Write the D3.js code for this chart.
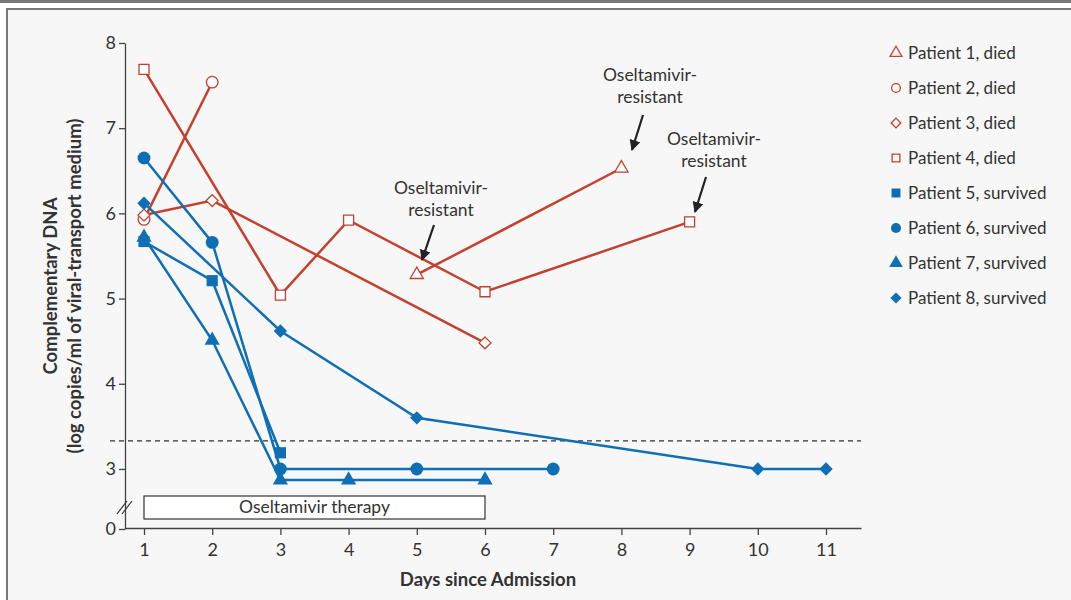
<!DOCTYPE html>
<html>
<head>
<script src="https://cdn.jsdelivr.net/npm/d3@7"></script>
<style>
  body { margin: 0; background: #fff; }
  text { font-family: Lato, "Open Sans", sans-serif; fill: #333; }
</style>
</head>
<body>
<div id="chart"></div>
<script>
// data
var days = [1, 2, 3, 4, 5, 6, 7, 8, 9, 10, 11];
var yTicks = [0, 3, 4, 5, 6, 7, 8];

var p1Days = [5, 8],             p1Vals = [5.28, 6.53];
var p2Days = [1, 2],             p2Vals = [5.93, 7.54];
var p3Days = [1, 2, 6],          p3Vals = [5.98, 6.15, 4.48];
var p4Days = [1, 3, 4, 6, 9],    p4Vals = [7.69, 5.04, 5.92, 5.08, 5.90];
var p5Days = [1, 2, 3],          p5Vals = [5.67, 5.21, 3.19];
var p6Days = [1, 2, 3, 5, 7],    p6Vals = [6.65, 5.66, 3.0, 3.0, 3.0];
var p7Days = [1, 2, 3, 4, 6],    p7Vals = [5.72, 4.51, 2.87, 2.87, 2.87];
var p8Days = [1, 3, 5, 10, 11],  p8Vals = [6.12, 4.62, 3.60, 3.0, 3.0];

var patientNames = ["Patient 1, died", "Patient 2, died", "Patient 3, died", "Patient 4, died",
                    "Patient 5, survived", "Patient 6, survived", "Patient 7, survived", "Patient 8, survived"];
var threshold = 3.33;
var therapyDays = [1, 6];
var resistantPoints = [[5, 5.28], [8, 6.53], [9, 5.90]];

var red = "#c4402f", blue = "#0f6fb5";

var series = [
  {d: p1Days, v: p1Vals, sym: d3.symbolTriangle, fill: false, col: red},
  {d: p2Days, v: p2Vals, sym: d3.symbolCircle, fill: false, col: red},
  {d: p3Days, v: p3Vals, sym: d3.symbolDiamond2, fill: false, col: red},
  {d: p4Days, v: p4Vals, sym: d3.symbolSquare, fill: false, col: red},
  {d: p5Days, v: p5Vals, sym: d3.symbolSquare, fill: true, col: blue},
  {d: p6Days, v: p6Vals, sym: d3.symbolCircle, fill: true, col: blue},
  {d: p7Days, v: p7Vals, sym: d3.symbolTriangle, fill: true, col: blue},
  {d: p8Days, v: p8Vals, sym: d3.symbolDiamond2, fill: true, col: blue}
];

var W = 1071, H = 600;
var svg = d3.select("#chart").append("svg").attr("width", W).attr("height", H);

// frame
svg.append("rect").attr("x", 0).attr("y", 0).attr("width", W).attr("height", 3).attr("fill", "#777");
svg.append("rect").attr("x", 7).attr("y", 9).attr("width", W + 10).attr("height", H)
   .attr("fill", "#f7f7f7").attr("stroke", "#777").attr("stroke-width", 2);

var x = d3.scaleLinear().domain([1, 11]).range([144, 826]);
// broken axis: 0 sits right under the 3..8 section
var y = d3.scaleLinear().domain([0, 2.3, 8]).range([529, 528.6, 43]);

// therapy box
var g = svg.append("g");
g.append("rect").attr("x", x(therapyDays[0])).attr("y", 496)
  .attr("width", x(therapyDays[1]) - x(therapyDays[0])).attr("height", 23)
  .attr("fill", "#fff").attr("stroke", "#333").attr("stroke-width", 1.2);
g.append("text").attr("x", (x(therapyDays[0]) + x(therapyDays[1])) / 2).attr("y", 509)
  .attr("text-anchor", "middle").attr("dominant-baseline", "middle")
  .style("font-size", "17.5px").text("Oseltamivir therapy");

// threshold line
g.append("line").attr("x1", 110).attr("x2", 861).attr("y1", y(threshold)).attr("y2", y(threshold))
  .attr("stroke", "#333").attr("stroke-width", 1.2).attr("stroke-dasharray", "5,4");

// axes
var xa = x.copy().domain([x.invert(125), x.invert(861)]).range([125, 861]);
var xAxis = svg.append("g").attr("transform", "translate(0,528)")
  .call(d3.axisBottom(xa).tickValues(days).tickSize(7).tickSizeOuter(0).tickFormat(d3.format("d")));
var yAxis = svg.append("g").attr("transform", "translate(125,0)")
  .call(d3.axisLeft(y).tickValues(yTicks).tickSize(6).tickSizeOuter(0));
[xAxis, yAxis].forEach(function(a) {
  a.selectAll("path, line").attr("stroke", "#444").attr("stroke-width", 1.3);
  a.selectAll("text").style("font-size", "18px").style("font-family", "Lato, sans-serif").attr("fill", "#333");
});
xAxis.selectAll("text").attr("dy", "1.0em");

// axis break marks
[0, 5].forEach(function(o) {
  svg.append("line").attr("x1", 117 + o).attr("y1", 514).attr("x2", 127 + o).attr("y2", 501)
    .attr("stroke", "#333").attr("stroke-width", 1.2);
});

// axis titles
svg.append("text").attr("x", 488).attr("y", 581).attr("text-anchor", "middle")
  .attr("dominant-baseline", "middle").style("font-size", "18.5px").style("font-weight", "bold")
  .text("Days since Admission");
var yt = svg.append("text").attr("transform", "translate(51,286) rotate(-90)")
  .attr("text-anchor", "middle").style("font-size", "18.5px").style("font-weight", "bold");
yt.append("tspan").attr("x", 0).attr("dy", "0.35em").text("Complementary DNA");
yt.append("tspan").attr("x", 0).attr("dy", "1.25em").text("(log copies/ml of viral-transport medium)");

// series lines and markers
var line = d3.line().x(function(p) { return x(p[0]); }).y(function(p) { return y(p[1]); });
series.forEach(function(s) {
  var pts = s.d.map(function(d, i) { return [d, s.v[i]]; });
  g.append("path").datum(pts).attr("d", line).attr("fill", "none")
    .attr("stroke", s.col).attr("stroke-width", 2.5);
});
series.forEach(function(s) {
  var pts = s.d.map(function(d, i) { return [d, s.v[i]]; });
  var size = s.sym === d3.symbolCircle ? 130 : (s.sym === d3.symbolTriangle ? 100 : (s.sym === d3.symbolSquare ? 125 : 115));
  g.selectAll(null).data(pts).enter().append("path")
    .attr("transform", function(p) { return "translate(" + x(p[0]) + "," + y(p[1]) + ")"; })
    .attr("d", d3.symbol().type(s.sym).size(s.fill ? size : size - 25))
    .attr("fill", s.fill ? s.col : "#fff").attr("stroke", s.col).attr("stroke-width", s.fill ? 0 : 1.3);
});

// annotations
svg.append("defs").append("marker").attr("id", "ah").attr("viewBox", "0 0 10 10")
  .attr("refX", 9).attr("refY", 5).attr("markerWidth", 5).attr("markerHeight", 5)
  .attr("orient", "auto").append("path").attr("d", "M0,0L10,5L0,10z").attr("fill", "#222");
var annoText = [[441, 190], [650, 77], [714, 141]];
var annoArrow = [[[434, 225], [422, 260]], [[643, 115], [632, 150]], [[706, 177], [695, 212]]];
resistantPoints.forEach(function(p, i) {
  var t = svg.append("text").attr("x", annoText[i][0]).attr("y", annoText[i][1])
    .attr("text-anchor", "middle").attr("dominant-baseline", "middle").style("font-size", "17.5px");
  t.append("tspan").attr("x", annoText[i][0]).text("Oseltamivir-");
  t.append("tspan").attr("x", annoText[i][0]).attr("dy", 22).text("resistant");
  var a = annoArrow[i];
  svg.append("line").attr("x1", a[0][0]).attr("y1", a[0][1]).attr("x2", a[1][0]).attr("y2", a[1][1])
    .attr("stroke", "#222").attr("stroke-width", 2.2).attr("marker-end", "url(#ah)");
});

// legend
var leg = svg.append("g").attr("transform", "translate(896,53)");
series.forEach(function(s, i) {
  var r = leg.append("g").attr("transform", "translate(0," + i * 35 + ")");
  r.append("path").attr("d", d3.symbol().type(s.sym).size(s.fill ? 80 : 60))
    .attr("fill", s.fill ? s.col : "none").attr("stroke", s.col).attr("stroke-width", s.fill ? 0 : 1.3);
  r.append("text").attr("x", 12).attr("y", 2).attr("dominant-baseline", "middle").style("font-size", "17px")
    .text(patientNames[i]);
});
</script>
</body>
</html>
